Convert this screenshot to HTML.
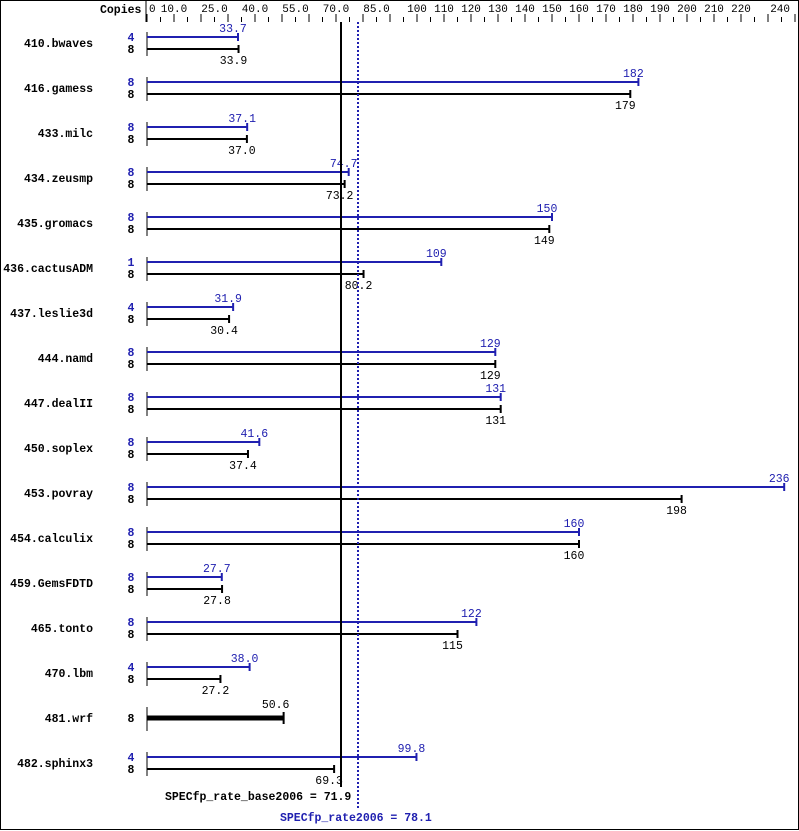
<!DOCTYPE html>
<html><head><meta charset="utf-8"><style>
html,body{margin:0;padding:0;background:#fff;}
svg{display:block;}
text{font-family:"Liberation Mono",monospace;font-size:11.5px;}
.t{font-size:11px;}
.b{font-weight:bold;}
</style></head><body>
<svg id="s" width="799" height="831" xmlns="http://www.w3.org/2000/svg"></svg>
<script>
const s=document.getElementById('s');let h='';
const X=v=>147+v*2.7;
h+='<rect x="0.5" y="0.5" width="798" height="829" fill="#fff" stroke="#000"/>';
h+='<text class="b" x="100" y="13">Copies</text>';
h+='<line x1="146" y1="0" x2="146" y2="22" stroke="#000"/>';
const labs=[[0,'0'],[10,'10.0'],[25,'25.0'],[40,'40.0'],[55,'55.0'],[70,'70.0'],[85,'85.0'],[100,'100']];
for(let v=110;v<=220;v+=10)labs.push([v,''+v]);
for(const [v,t] of labs){ if(v==0)h+=`<text class="t" x="149" y="12">0</text>`;else h+=`<text class="t" x="${X(v)}" y="12" text-anchor="middle">${t}</text>`;}
h+=`<text class="t" x="790" y="12" text-anchor="end">240</text>`;
for(let v=0;v<=240;v+=5){const x=Math.min(X(v),796);const big=v%10==0;h+=`<line x1="${x}" y1="${big?14:17}" x2="${x}" y2="22" stroke="#000"/>`;}
const d=[["410.bwaves",4,33.7,8,33.9],["416.gamess",8,182,8,179],["433.milc",8,37.1,8,37.0],["434.zeusmp",8,74.7,8,73.2],["435.gromacs",8,150,8,149],["436.cactusADM",1,109,8,80.2],["437.leslie3d",4,31.9,8,30.4],["444.namd",8,129,8,129],["447.dealII",8,131,8,131],["450.soplex",8,41.6,8,37.4],["453.povray",8,236,8,198],["454.calculix",8,160,8,160],["459.GemsFDTD",8,27.7,8,27.8],["465.tonto",8,122,8,115],["470.lbm",4,38.0,8,27.2],["481.wrf",null,null,8,50.6],["482.sphinx3",4,99.8,8,69.3]];
const fmt=v=>v>=100?String(Math.round(v)):v.toFixed(1);
d.forEach((r,i)=>{const c=43+45*i;
h+=`<text class="b" x="93" y="${c+4}" text-anchor="end">${r[0]}</text>`;
h+=`<line x1="147" y1="${c-11}" x2="147" y2="${c+13}" stroke="#000"/>`;
if(r[1]==null){const x=X(r[4]);
h+=`<text class="b" x="131" y="${c+4}" text-anchor="middle">8</text>`;
h+=`<line x1="147" y1="${c}" x2="${x}" y2="${c}" stroke="#000" stroke-width="5"/><line x1="${x}" y1="${c-6}" x2="${x}" y2="${c+6}" stroke="#000" stroke-width="2"/>`;
h+=`<text x="${x-8}" y="${c-10}" text-anchor="middle">${fmt(r[4])}</text>`;return;}
const yb=c-6,yk=c+6;const xb=X(r[2]),xk=X(r[4]);
h+=`<text class="b" x="131" y="${yb+4}" text-anchor="middle" fill="#2020b0">${r[1]}</text>`;
h+=`<text class="b" x="131" y="${yk+4}" text-anchor="middle">${r[3]}</text>`;
h+=`<line x1="147" y1="${yb}" x2="${xb}" y2="${yb}" stroke="#2020b0" stroke-width="2"/><line x1="${xb}" y1="${yb-4}" x2="${xb}" y2="${yb+4}" stroke="#2020b0" stroke-width="2"/>`;
h+=`<line x1="147" y1="${yk}" x2="${xk}" y2="${yk}" stroke="#000" stroke-width="2"/><line x1="${xk}" y1="${yk-4}" x2="${xk}" y2="${yk+4}" stroke="#000" stroke-width="2"/>`;
h+=`<text x="${xb-5}" y="${yb-5}" text-anchor="middle" fill="#2020b0">${fmt(r[2])}</text>`;
h+=`<text x="${xk-5}" y="${yk+15}" text-anchor="middle">${fmt(r[4])}</text>`;
});
h+=`<line x1="341" y1="22" x2="341" y2="787" stroke="#000" stroke-width="2"/>`;
h+=`<line x1="358" y1="22" x2="358" y2="808" stroke="#2020b0" stroke-width="2" stroke-dasharray="2,2"/>`;
h+=`<text class="b" x="165" y="800">SPECfp_rate_base2006 = 71.9</text>`;
h+=`<text class="b" x="280" y="821" fill="#2020b0">SPECfp_rate2006 = 78.1</text>`;
s.innerHTML=h;
</script>
</body></html>
